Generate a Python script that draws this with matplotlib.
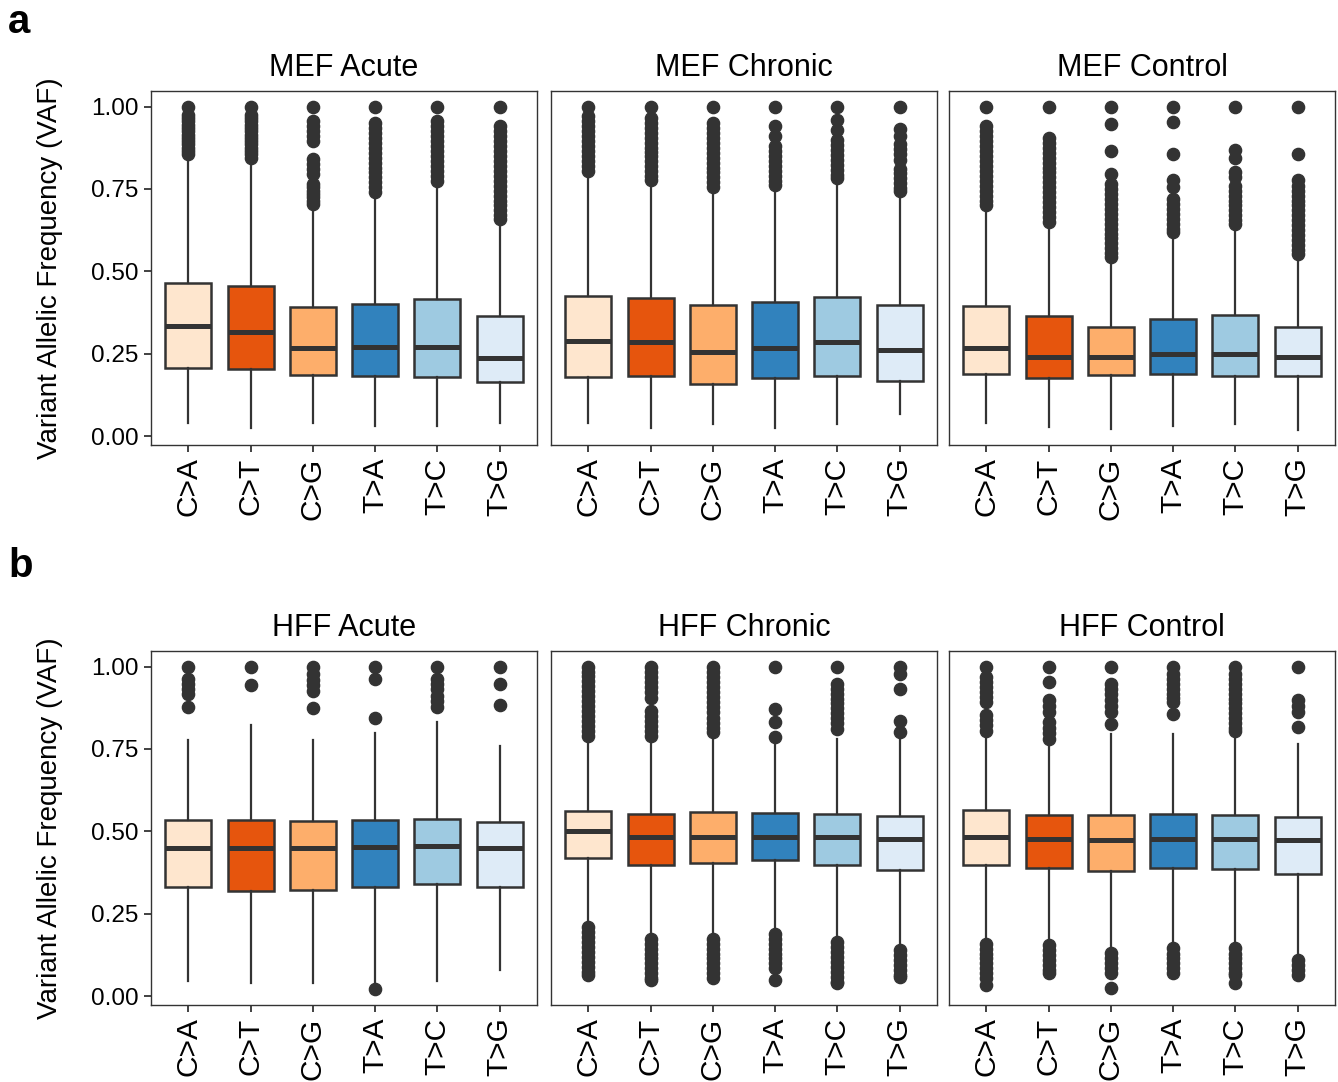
import numpy as np
import matplotlib
matplotlib.use("Agg")
import matplotlib.pyplot as plt

plt.rcParams['font.family'] = ['Liberation Sans', 'DejaVu Sans']

categories = ["C>A", "C>T", "C>G", "T>A", "T>C", "T>G"]
box_colors = ["#FEE6CE", "#E6550D", "#FDAE6B", "#3182BD", "#9ECAE1", "#DEEBF7"]
panel_titles = ["MEF Acute", "MEF Chronic", "MEF Control",
                "HFF Acute", "HFF Chronic", "HFF Control"]

# box stats, one row per panel, one column per category
q1 = [[0.207, 0.205, 0.187, 0.182, 0.180, 0.166],
      [0.180, 0.182, 0.158, 0.177, 0.182, 0.167],
      [0.190, 0.177, 0.185, 0.188, 0.182, 0.182],
      [0.333, 0.320, 0.323, 0.333, 0.340, 0.333],
      [0.421, 0.398, 0.403, 0.413, 0.398, 0.383],
      [0.398, 0.388, 0.380, 0.388, 0.385, 0.370]]
med = [[0.334, 0.318, 0.267, 0.270, 0.270, 0.239],
       [0.289, 0.285, 0.256, 0.269, 0.285, 0.261],
       [0.269, 0.242, 0.242, 0.250, 0.250, 0.240],
       [0.449, 0.449, 0.449, 0.454, 0.457, 0.449],
       [0.501, 0.482, 0.484, 0.482, 0.484, 0.476],
       [0.484, 0.477, 0.474, 0.477, 0.477, 0.474]]
q3 = [[0.464, 0.457, 0.393, 0.400, 0.417, 0.364],
      [0.427, 0.420, 0.399, 0.407, 0.422, 0.399],
      [0.394, 0.364, 0.331, 0.357, 0.367, 0.331],
      [0.534, 0.536, 0.531, 0.534, 0.537, 0.528],
      [0.561, 0.554, 0.559, 0.557, 0.554, 0.547],
      [0.565, 0.549, 0.549, 0.554, 0.549, 0.544]]
whislo = [[0.041, 0.026, 0.041, 0.031, 0.033, 0.041],
          [0.040, 0.025, 0.038, 0.025, 0.038, 0.069],
          [0.040, 0.028, 0.023, 0.033, 0.038, 0.020],
          [0.048, 0.040, 0.040, 0.035, 0.048, 0.081],
          [0.222, 0.186, 0.186, 0.202, 0.176, 0.146],
          [0.166, 0.163, 0.136, 0.151, 0.151, 0.111]]
whishi = [[0.834, 0.832, 0.698, 0.726, 0.765, 0.652],
          [0.796, 0.771, 0.747, 0.756, 0.771, 0.735],
          [0.682, 0.636, 0.538, 0.609, 0.634, 0.548],
          [0.776, 0.822, 0.776, 0.798, 0.832, 0.758],
          [0.766, 0.776, 0.786, 0.771, 0.781, 0.781],
          [0.796, 0.776, 0.796, 0.796, 0.791, 0.766]]

# outliers
mef_acute_out = [
    [1.0, 0.975, 0.965, 0.955, 0.945, 0.935, 0.925, 0.915, 0.905, 0.895, 0.885, 0.875, 0.865, 0.855],
    [1.0, 0.975, 0.965, 0.955, 0.945, 0.935, 0.925, 0.915, 0.905, 0.895, 0.885, 0.875, 0.865, 0.855, 0.845],
    [1.0, 0.955, 0.94, 0.925, 0.91, 0.895, 0.84, 0.825, 0.81, 0.795, 0.765, 0.755, 0.745, 0.735, 0.725, 0.715, 0.705],
    [1.0, 0.95, 0.935, 0.92, 0.905, 0.89, 0.875, 0.86, 0.845, 0.83, 0.815, 0.80, 0.785, 0.77, 0.755, 0.74],
    [1.0, 0.955, 0.94, 0.925, 0.91, 0.895, 0.88, 0.865, 0.85, 0.835, 0.82, 0.805, 0.79, 0.775],
    [1.0, 0.94, 0.925, 0.91, 0.895, 0.88, 0.865, 0.85, 0.835, 0.82, 0.805, 0.79, 0.775, 0.76, 0.745,
     0.73, 0.715, 0.70, 0.685, 0.67, 0.66]]
mef_chronic_out = [
    [1.0, 0.97, 0.955, 0.94, 0.925, 0.91, 0.895, 0.88, 0.865, 0.85, 0.835, 0.82, 0.805],
    [1.0, 0.965, 0.95, 0.935, 0.92, 0.905, 0.89, 0.875, 0.862, 0.85, 0.835, 0.82, 0.805, 0.79, 0.777],
    [1.0, 0.95, 0.935, 0.92, 0.905, 0.89, 0.875, 0.86, 0.843, 0.83, 0.815, 0.80, 0.785, 0.77, 0.757],
    [1.0, 0.94, 0.912, 0.88, 0.865, 0.85, 0.835, 0.82, 0.805, 0.79, 0.775, 0.762],
    [1.0, 0.958, 0.93, 0.897, 0.882, 0.867, 0.852, 0.837, 0.822, 0.807, 0.792, 0.782],
    [1.0, 0.933, 0.912, 0.886, 0.87, 0.855, 0.838, 0.812, 0.797, 0.782, 0.767, 0.752, 0.745]]
mef_control_out = [
    [1.0, 0.94, 0.925, 0.91, 0.895, 0.88, 0.865, 0.85, 0.835, 0.82, 0.805, 0.79, 0.775, 0.76, 0.745,
     0.73, 0.715, 0.70],
    [1.0, 0.905, 0.89, 0.875, 0.86, 0.845, 0.83, 0.815, 0.80, 0.785, 0.77, 0.755, 0.74, 0.725, 0.71,
     0.695, 0.68, 0.665, 0.65],
    [1.0, 0.947, 0.865, 0.796, 0.765, 0.75, 0.735, 0.72, 0.705, 0.69, 0.675, 0.66, 0.645, 0.63, 0.615,
     0.60, 0.585, 0.57, 0.555, 0.545],
    [1.0, 0.952, 0.857, 0.776, 0.755, 0.72, 0.705, 0.69, 0.675, 0.66, 0.645, 0.63, 0.62],
    [1.0, 0.867, 0.845, 0.80, 0.785, 0.758, 0.745, 0.73, 0.715, 0.70, 0.685, 0.67, 0.655, 0.645],
    [1.0, 0.855, 0.776, 0.76, 0.745, 0.73, 0.715, 0.70, 0.685, 0.67, 0.655, 0.64, 0.625, 0.61, 0.595,
     0.58, 0.565, 0.553]]
hff_acute_out = [
    [1.0, 0.963, 0.948, 0.933, 0.918, 0.877],
    [1.0, 0.943],
    [1.0, 0.978, 0.96, 0.945, 0.927, 0.874],
    [1.0, 0.961, 0.845, 0.022],
    [1.0, 0.963, 0.948, 0.932, 0.91, 0.895, 0.877],
    [1.0, 0.946, 0.882]]
hff_chronic_out = [
    [1.0, 0.983, 0.97, 0.955, 0.94, 0.925, 0.91, 0.895, 0.88, 0.865, 0.85, 0.835, 0.82, 0.805, 0.79,
     0.21, 0.195, 0.18, 0.165, 0.15, 0.135, 0.12, 0.105, 0.09, 0.075, 0.066],
    [1.0, 0.983, 0.968, 0.953, 0.938, 0.923, 0.905, 0.865, 0.85, 0.835, 0.82, 0.805, 0.79,
     0.175, 0.16, 0.145, 0.13, 0.115, 0.10, 0.085, 0.07, 0.055, 0.05],
    [1.0, 0.983, 0.968, 0.953, 0.938, 0.923, 0.908, 0.893, 0.878, 0.863, 0.845, 0.83, 0.815, 0.80,
     0.175, 0.16, 0.145, 0.13, 0.115, 0.10, 0.085, 0.07, 0.056],
    [1.0, 0.872, 0.832, 0.786, 0.19, 0.175, 0.16, 0.145, 0.13, 0.115, 0.10, 0.085, 0.05],
    [1.0, 0.948, 0.933, 0.918, 0.903, 0.888, 0.873, 0.858, 0.843, 0.828, 0.812,
     0.165, 0.15, 0.135, 0.12, 0.105, 0.09, 0.075, 0.06, 0.045, 0.04],
    [1.0, 0.978, 0.932, 0.834, 0.80, 0.14, 0.125, 0.11, 0.095, 0.08, 0.065, 0.06]]
hff_control_out = [
    [1.0, 0.968, 0.953, 0.938, 0.922, 0.907, 0.892, 0.852, 0.837, 0.822, 0.806,
     0.16, 0.145, 0.13, 0.115, 0.10, 0.085, 0.07, 0.055, 0.036],
    [1.0, 0.953, 0.897, 0.88, 0.862, 0.832, 0.815, 0.798, 0.781,
     0.156, 0.14, 0.125, 0.11, 0.095, 0.08, 0.071],
    [1.0, 0.948, 0.932, 0.917, 0.897, 0.88, 0.862, 0.825, 0.131, 0.115, 0.10, 0.085, 0.071, 0.025],
    [1.0, 0.978, 0.963, 0.948, 0.933, 0.918, 0.905, 0.892, 0.857, 0.146, 0.13, 0.115, 0.10, 0.085, 0.071],
    [1.0, 0.978, 0.963, 0.948, 0.933, 0.918, 0.903, 0.888, 0.873, 0.858, 0.843, 0.828, 0.813, 0.806,
     0.146, 0.13, 0.115, 0.10, 0.085, 0.07, 0.066, 0.04],
    [1.0, 0.897, 0.88, 0.862, 0.817, 0.111, 0.095, 0.08, 0.066]]
outliers = [mef_acute_out, mef_chronic_out, mef_control_out,
            hff_acute_out, hff_chronic_out, hff_control_out]

W, H = 1338, 1082
fig = plt.figure(figsize=(W / 100, H / 100), dpi=100)

dark = "#333333"
lefts = [151, 551, 949]
panel_w = 386
tops = [91, 651]
panel_h = 354

for p in range(6):
    row, col = p // 3, p % 3
    ax = fig.add_axes([lefts[col] / W, 1 - (tops[row] + panel_h) / H, panel_w / W, panel_h / H])
    stats = []
    for i in range(6):
        stats.append(dict(q1=q1[p][i], med=med[p][i], q3=q3[p][i],
                          whislo=whislo[p][i], whishi=whishi[p][i],
                          fliers=outliers[p][i], label=categories[i]))
    bp = ax.bxp(stats, positions=np.arange(1, 7), widths=0.74, patch_artist=True,
                showcaps=False,
                boxprops=dict(edgecolor=dark, linewidth=1.8),
                medianprops=dict(color=dark, linewidth=3.6, solid_capstyle='butt'),
                whiskerprops=dict(color=dark, linewidth=1.6),
                flierprops=dict(marker='o', markerfacecolor=dark, markeredgecolor=dark,
                                markersize=8.8, linestyle='none'))
    for patch, c in zip(bp['boxes'], box_colors):
        patch.set_facecolor(c)

    ax.set_xlim(0.4, 6.6)
    ax.set_ylim(-0.026, 1.047)
    for s in ax.spines.values():
        s.set_color(dark)
        s.set_linewidth(1.0)
    ax.set_xticks(np.arange(1, 7))
    ax.set_xticklabels(categories, rotation=90, fontsize=21.5, color='black')
    ax.tick_params(axis='x', length=5, width=1.3, color=dark, pad=4)
    ax.set_yticks([0, 0.25, 0.5, 0.75, 1.0])
    if col == 0:
        ax.set_yticklabels(["0.00", "0.25", "0.50", "0.75", "1.00"], fontsize=17.5, color='black')
        ax.tick_params(axis='y', length=5, width=1.3, color=dark, pad=4)
    else:
        ax.tick_params(axis='y', left=False, labelleft=False)
    ax.set_title(panel_titles[p], fontsize=22, pad=11)

for row in range(2):
    yc = 1 - (tops[row] + panel_h / 2) / H
    fig.text(50 / W, yc, "Variant Allelic Frequency (VAF)", rotation=90,
             ha='center', va='center', fontsize=20)

fig.text(8 / W, 1 - 3 / H, "a", fontsize=29, fontweight='bold', ha='left', va='top')
fig.text(8 / W, 1 - 547 / H, "b", fontsize=29, fontweight='bold', ha='left', va='top')

fig.savefig("out.png", dpi=100)
